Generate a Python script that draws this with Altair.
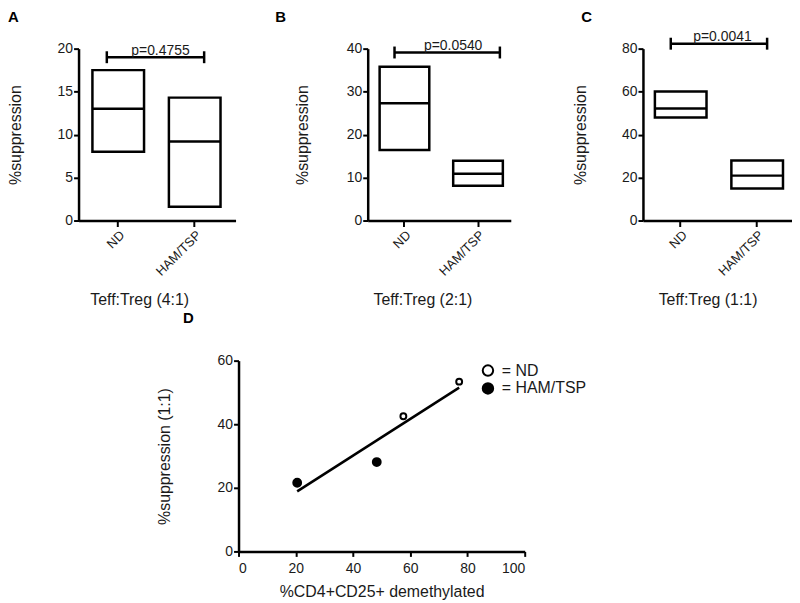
import altair as alt
import pandas as pd

FONT = "Liberation Sans"
INK = "#1a1a1a"

# ---------------- data ----------------
groups = ["ND", "HAM/TSP"]

# Panel A  Teff:Treg (4:1)  (box low / median / high)
a_low = [8.0, 1.6]
a_mid = [13.0, 9.2]
a_high = [17.5, 14.3]
# Panel B  Teff:Treg (2:1)
b_low = [16.4, 8.1]
b_mid = [27.3, 10.9]
b_high = [35.8, 13.9]
# Panel C  Teff:Treg (1:1)
c_low = [47.9, 14.9]
c_mid = [52.1, 20.9]
c_high = [60.0, 27.9]

letters = ["A", "B", "C"]
p_labels = ["p=0.4755", "p=0.0540", "p=0.0041"]
bracket_y = [19.0, 39.1, 82.3]
y_max = [20, 40, 80]
y_step = [5, 10, 20]
x_titles = ["Teff:Treg (4:1)", "Teff:Treg (2:1)", "Teff:Treg (1:1)"]
y_title = "%suppression"

# Panel D scatter
d_groups = ["ND", "ND", "HAM/TSP", "HAM/TSP"]
d_demeth = [57.6, 77.1, 20.5, 48.3]
d_supp = [42.5, 53.4, 21.6, 28.1]
d_letter = ["D"]
d_x_title = "%CD4+CD25+ demethylated"
d_y_title = "%suppression (1:1)"
d_x_ticks = [0, 20, 40, 60, 80, 100]
d_y_ticks = [0, 20, 40, 60]

# ---------------- layout / style (pixels) ----------------
HEIGHT = 173
PANEL = [
    dict(width=158, po=0.189, align=0.48, bw=52, letter_x=-71, ytitle_x=-63,
         xtitle_x=61, cap_l=-11.5, cap_r=9.5, p_dx=42.5),
    dict(width=144, po=0.135, align=0.6, bw=50, letter_x=-93, ytitle_x=-66,
         xtitle_x=55, cap_l=-10, cap_r=22, p_dx=49),
    dict(width=150, po=0.137, align=0.57, bw=52, letter_x=-62, ytitle_x=-63,
         xtitle_x=65, cap_l=-10, cap_r=10, p_dx=42),
]
POINT_SIZE = {"ND": 35, "HAM/TSP": 62}


def box_panel(i, low, mid, high):
    st = PANEL[i]
    df = pd.DataFrame({"group": groups, "low": low, "mid": mid, "high": high})
    br = pd.DataFrame({"left": [groups[0]], "right": [groups[1]],
                       "y": [bracket_y[i]], "p": [p_labels[i]]})
    lt = pd.DataFrame({"t": [letters[i]]})
    xs = alt.Scale(domain=groups, paddingInner=0.325,
                   paddingOuter=st["po"], align=st["align"])
    ys = alt.Scale(domain=[0, y_max[i]], nice=False)
    xax = alt.Axis(title=x_titles[i], labelAngle=-45, labelFontSize=13,
                   labelPadding=2, tickSize=6, titleX=st["xtitle_x"], titleY=79,
                   titleBaseline="middle", titleAlign="center")
    yax = alt.Axis(title=y_title, values=list(range(0, y_max[i] + 1, y_step[i])),
                   tickSize=5, labelPadding=1, titleX=st["ytitle_x"],
                   titleY=HEIGHT / 2, titleBaseline="middle", titleAlign="center")

    def X(f):
        return alt.X(f, type="nominal", scale=xs, axis=xax)

    def Y(f):
        return alt.Y(f, type="quantitative", scale=ys, axis=yax)

    boxes = alt.Chart(df).mark_bar(fill="white", stroke="black", strokeWidth=2.5).encode(
        x=X("group"), y=Y("low"), y2="high")
    meds = alt.Chart(df).mark_tick(color="black", thickness=2.5, size=st["bw"],
                                   orient="horizontal", opacity=1).encode(
        x=X("group"), y=Y("mid"))
    rule = alt.Chart(br).mark_rule(color="black", strokeWidth=2.5,
                                   xOffset=st["cap_l"], x2Offset=st["cap_r"]).encode(
        x=X("left"), x2="right", y=Y("y"))
    capl = alt.Chart(br).mark_tick(orient="vertical", size=12, thickness=2.5,
                                   color="black", opacity=1, xOffset=st["cap_l"]).encode(
        x=X("left"), y=Y("y"))
    capr = alt.Chart(br).mark_tick(orient="vertical", size=12, thickness=2.5,
                                   color="black", opacity=1, xOffset=st["cap_r"]).encode(
        x=X("right"), y=Y("y"))
    ptxt = alt.Chart(br).mark_text(fontSize=14, color=INK, baseline="alphabetic",
                                   dy=-2.5, align="center", xOffset=st["p_dx"]).encode(
        x=X("left"), y=Y("y"), text="p:N")
    letter = alt.Chart(lt).mark_text(fontSize=15, fontWeight="bold", align="left",
                                     baseline="top", color="black").encode(
        x=alt.value(st["letter_x"]), y=alt.value(-39), text="t:N")
    return alt.layer(boxes, meds, rule, capl, capr, ptxt, letter).properties(
        width=st["width"], height=HEIGHT)


def scatter_panel():
    df = pd.DataFrame({"group": d_groups, "demeth": d_demeth, "supp": d_supp})
    lt = pd.DataFrame({"t": d_letter})
    xs = alt.Scale(domain=[0, 100], nice=False)
    ys = alt.Scale(domain=[0, 60], nice=False)
    xax = alt.Axis(title=d_x_title, values=d_x_ticks, labelAngle=0, labelPadding=5,
                   tickSize=5, titleX=144, titleY=40, titleBaseline="middle",
                   titleAlign="center")
    yax = alt.Axis(title=d_y_title, values=d_y_ticks, tickSize=5, labelPadding=1,
                   titleX=-74, titleY=96, titleBaseline="middle", titleAlign="center")
    X = alt.X("demeth:Q", scale=xs, axis=xax)
    Y = alt.Y("supp:Q", scale=ys, axis=yax)
    # the legend is lifted to the top-level group, so legendX/Y are measured
    # from the top-left panel's plot origin
    fill_enc = alt.Fill(
        "group:N", scale=alt.Scale(domain=groups, range=["white", "black"]),
        legend=alt.Legend(title=None, orient="none", legendX=404, legendY=316,
                          labelExpr="'= ' + datum.label", labelFontSize=16,
                          labelColor=INK, labelFont=FONT, labelOffset=6,
                          rowPadding=-2, symbolSize=110,
                          symbolStrokeColor="black", symbolStrokeWidth=2,
                          symbolType="circle", padding=0, symbolOpacity=1))
    line = alt.Chart(df).transform_regression("demeth", "supp").mark_line(
        color="black", strokeWidth=2.5).encode(x=X, y=Y)
    layers = [line]
    for g in groups:
        layers.append(
            alt.Chart(df).transform_filter(alt.datum.group == g).mark_point(
                filled=True, stroke="black", strokeWidth=2, opacity=1,
                shape="circle", size=POINT_SIZE[g]).encode(x=X, y=Y, fill=fill_enc))
    letter = alt.Chart(lt).mark_text(fontSize=15, fontWeight="bold", align="left",
                                     baseline="top", color="black").encode(
        x=alt.value(-56), y=alt.value(-50), text="t:N")
    layers.append(letter)
    return alt.layer(*layers).properties(width=288, height=192)


pA = box_panel(0, a_low, a_mid, a_high)
pB = box_panel(1, b_low, b_mid, b_high)
pC = box_panel(2, c_low, c_mid, c_high)
pD = scatter_panel()

top = alt.hconcat(pA, pB, pC, spacing=133, bounds="flush")
spacer = alt.Chart(pd.DataFrame({"s": [0]})).mark_point(opacity=0).properties(
    width=161, height=10)
bottom = alt.hconcat(spacer, pD, spacing=0, bounds="flush")

chart = alt.vconcat(top, bottom, spacing=4).properties(padding=0).configure(
    font=FONT, background="white"
).configure_view(stroke=None).configure_axis(
    domainColor="black", domainWidth=2.5, tickColor="black", tickWidth=2,
    labelColor=INK, labelFont=FONT, labelFontSize=14, titleFont=FONT,
    titleColor=INK, titleFontSize=16, titleFontWeight="normal", grid=False
)

chart.save("out.html", embed_options={"renderer": "svg", "actions": False})
